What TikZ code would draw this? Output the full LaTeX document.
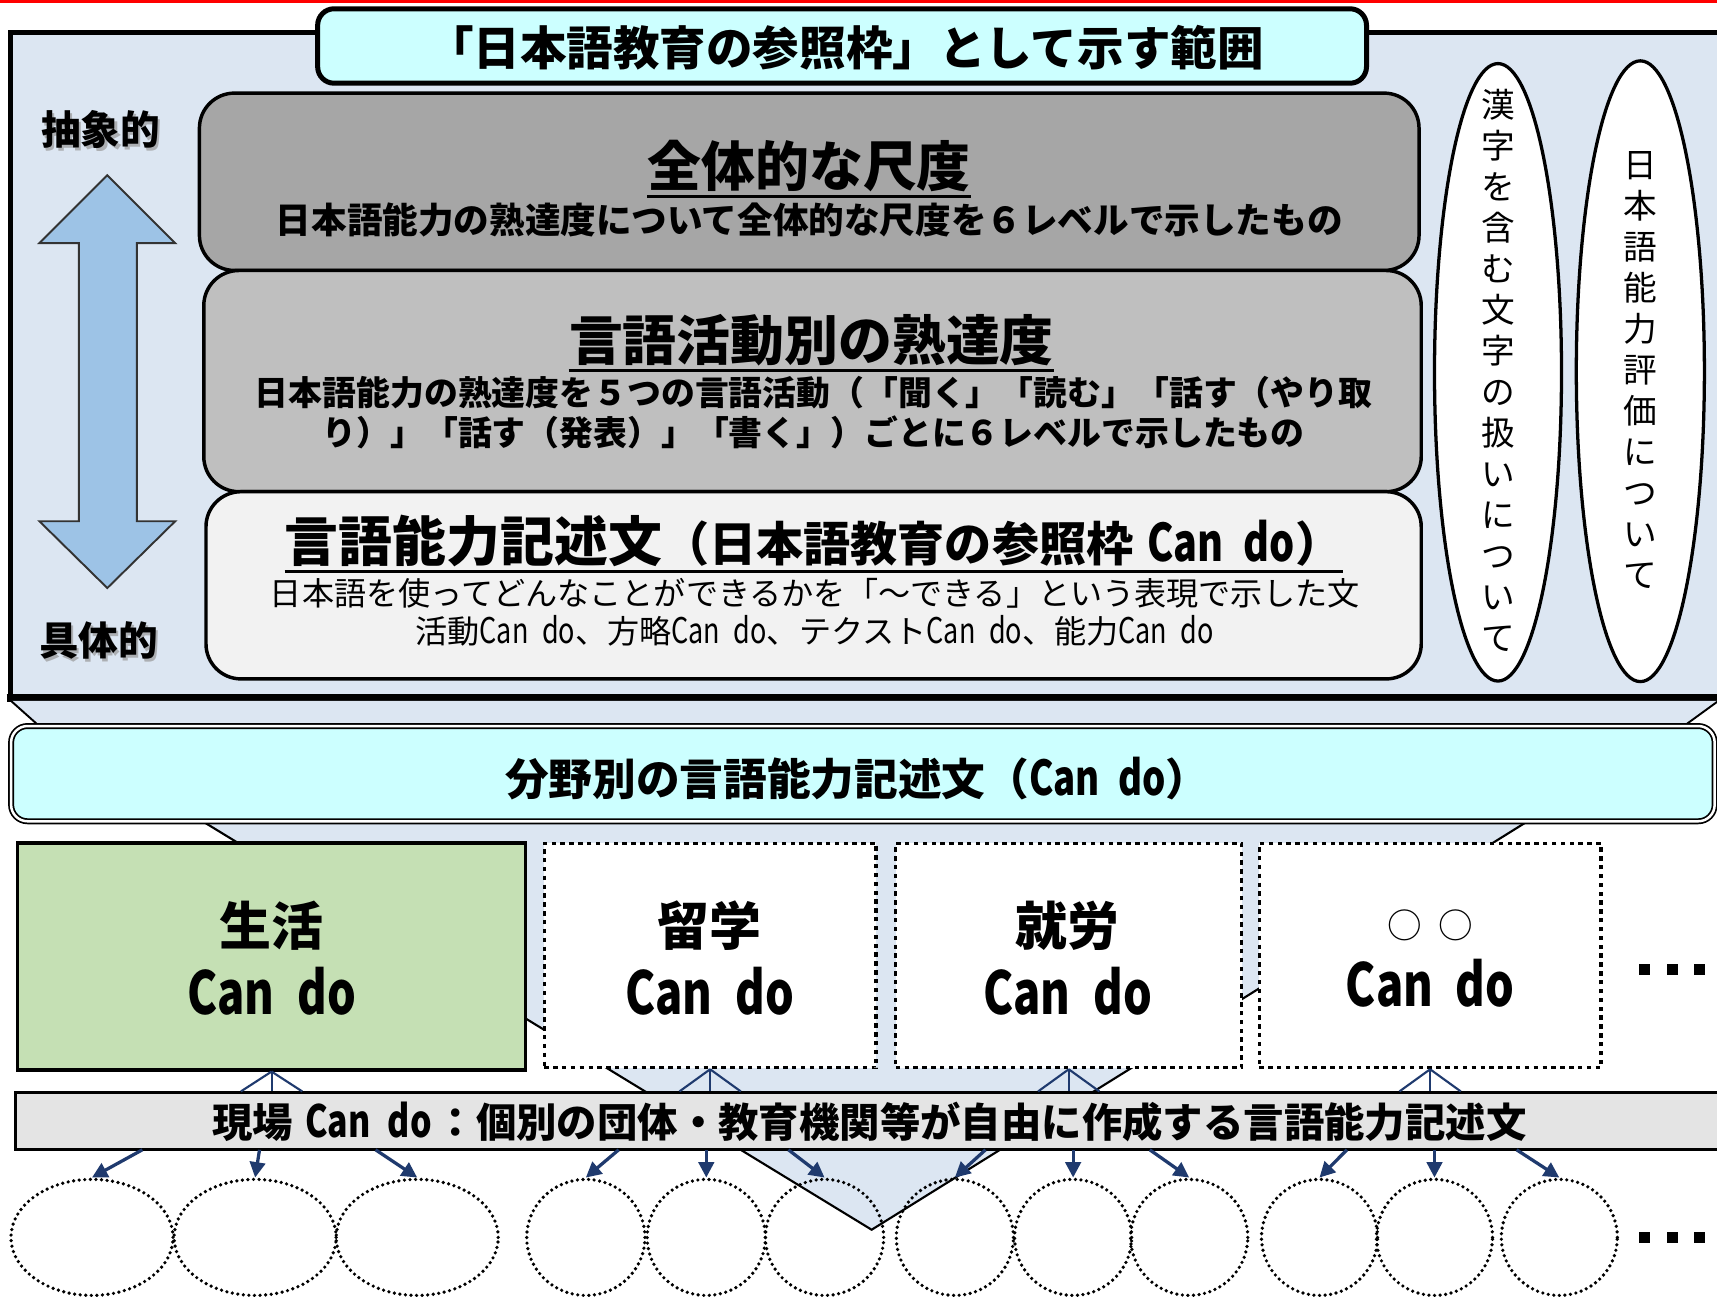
\documentclass[tikz,border=0pt]{standalone}
\usepackage{fontspec}
\usepackage{graphicx}
\setmainfont{Noto Sans CJK JP}
\newfontfamily\narrowfont{Noto Sans CJK JP}[FakeStretch=0.84]
\usetikzlibrary{shapes.geometric,arrows.meta}
\definecolor{framebg}{HTML}{DCE6F2}
\definecolor{cyanbox}{HTML}{CCFFFF}
\definecolor{grayA}{HTML}{A6A6A6}
\definecolor{grayB}{HTML}{BFBFBF}
\definecolor{grayC}{HTML}{F2F2F2}
\definecolor{greenbox}{HTML}{C5E0B4}
\definecolor{arrowblue}{HTML}{9DC3E6}
\definecolor{navy}{HTML}{1F3A6E}
\definecolor{genba}{HTML}{E4E4E4}
\newcommand{\cdo}{\scalebox{1}[1.1]{{\narrowfont Can\hspace{0.42em}do}}}
\begin{document}
\begin{tikzpicture}[x=0.02cm,y=-0.02cm,
  txt/.style={inner sep=0pt, align=center},
  layer/.style={draw, line width=1.8pt, rounded corners=0.64cm, inner sep=0pt},
  dotbox/.style={draw, line width=1.7pt, dash pattern=on 2.3pt off 2.3pt, fill=white, inner sep=0pt},
  dotell/.style={ellipse, draw, line width=1.9pt, dash pattern=on 0pt off 2.9pt, line cap=round, inner sep=0pt, minimum height=2.12cm},
  fan/.style={navy, line width=1.1pt},
  down/.style={navy, line width=1.7pt, -{Triangle[length=8pt,width=8pt]}},
  sq/.style={fill=black, minimum size=0.2cm, inner sep=0pt}]
\path[use as bounding box] (0,0) rectangle (1568,1184);
\clip (0,0) rectangle (1568,1184);
\fill[white] (0,0) rectangle (1568,1184);
\fill[red] (0,0) rectangle (1568,2.5);

% big frame
\draw[line width=2.6pt, fill=framebg] (10,30) rectangle (1650,637);
\draw[line width=4.2pt] (6,637) -- (1650,637);

% title
\node[draw, line width=2.6pt, rounded corners=0.3cm, fill=cyanbox, minimum width=19.16cm, minimum height=1.36cm, inner sep=0pt] (title) at (769,42) {};
\node[txt, font=\bfseries\fontsize{24.2}{29}\selectfont] (titlet) at (772,44) {「日本語教育の参照枠」として示す範囲};

% layers
\node[layer, fill=grayA, minimum width=22.28cm, minimum height=3.24cm] (l1) at (739,166) {};
\node[layer, fill=grayB, minimum width=22.24cm, minimum height=4.04cm] (l2) at (742,348) {};
\node[layer, fill=grayC, minimum width=22.2cm, minimum height=3.42cm] (l3) at (743,534.5) {};

\node[txt, font=\bfseries\fontsize{28}{34}\selectfont] (l1t) at (739,152) {全体的な尺度};
\draw[line width=1.5pt] ([yshift=-2pt]l1t.south west) -- ([yshift=-2pt]l1t.south east);
\node[txt, font=\bfseries\fontsize{18.5}{22}\selectfont] (l1s) at (739,201) {日本語能力の熟達度について全体的な尺度を６レベルで示したもの};

\node[txt, font=\bfseries\fontsize{28}{34}\selectfont] (l2t) at (741,311) {言語活動別の熟達度};
\draw[line width=1.5pt] ([yshift=-2pt]l2t.south west) -- ([yshift=-2pt]l2t.south east);
\node[txt, font=\bfseries\fontsize{17.6}{21}\selectfont] (l2s) at (743,377) {日本語能力の熟達度を５つの言語活動（「聞く」「読む」「話す（やり取\\り）」「話す（発表）」「書く」）ごとに６レベルで示したもの};

\node[txt, font=\bfseries] (l3t) at (743,494) {{\fontsize{28}{34}\selectfont 言語能力記述文}{\fontsize{24.5}{30}\selectfont （日本語教育の参照枠\hspace{0.3em}\cdo）}};
\draw[line width=1.5pt] ([yshift=-2pt]l3t.south west) -- ([yshift=-2pt]l3t.south east);
\node[txt, font=\fontsize{16.7}{19.8}\selectfont] (l3s) at (744,559) {日本語を使ってどんなことができるかを「～できる」という表現で示した文\\活動\cdo、方略\cdo、テクスト\cdo、能力\cdo};

% right ellipses
\node[ellipse, draw, line width=1.7pt, fill=white, minimum width=2.32cm, minimum height=11.28cm, inner sep=0pt] (el1) at (1368,340) {};
\node[ellipse, draw, line width=1.7pt, fill=white, minimum width=2.34cm, minimum height=11.34cm, inner sep=0pt] (el2) at (1498,339) {};
\node[txt, font=\fontsize{17.5}{21.3}\selectfont] (v1) at (1368,338) {漢\\字\\を\\含\\む\\文\\字\\の\\扱\\い\\に\\つ\\い\\て};
\node[txt, font=\fontsize{17.5}{21.3}\selectfont] (v2) at (1498,338) {日\\本\\語\\能\\力\\評\\価\\に\\つ\\い\\て};

% double arrow
\draw[line width=1pt, draw=black!80, fill=arrowblue] (98,160) -- (160,222) -- (125,222) -- (125,476) -- (160,476) -- (98,537) -- (36,476) -- (72,476) -- (72,222) -- (36,222) -- cycle;
\node[txt, text=black!40, opacity=0.7, font=\bfseries\fontsize{20.6}{25}\selectfont] (absh) at (94,121) {抽象的};
\node[txt, font=\bfseries\fontsize{20.6}{25}\selectfont] (ab) at (92,118) {抽象的};
\node[txt, text=black!40, opacity=0.7, font=\bfseries\fontsize{20.6}{25}\selectfont] (gush) at (92,588) {具体的};
\node[txt, font=\bfseries\fontsize{20.6}{25}\selectfont] (gu) at (90,585) {具体的};

% funnels
\fill[framebg] (10,640) -- (1568,640) -- (1535,665) -- (38,665) -- cycle;
\draw[line width=1pt] (10,640) -- (38,665);
\draw[line width=1pt] (1568,641) -- (1535,665);
\fill[framebg] (185,750) -- (1395,750) -- (796,1123) -- cycle;
\draw[line width=1.1pt] (185,750) -- (796,1123) -- (1395,750);

% bar
\node[draw, double, line width=0.9pt, double distance=1.3pt, rounded corners=0.3cm, fill=cyanbox, minimum width=31.12cm, minimum height=1.74cm, inner sep=0pt] (bar) at (788,706.5) {};
\node[txt, font=\bfseries\fontsize{22.7}{27}\selectfont] (bart) at (783,711) {分野別の言語能力記述文（\cdo）};

% field boxes
\node[draw, line width=1.8pt, fill=greenbox, minimum width=9.28cm, minimum height=4.14cm, inner sep=0pt] (sk) at (248,873.5) {};
\node[dotbox, minimum width=6.06cm, minimum height=4.1cm] (ry) at (648.5,872.5) {};
\node[dotbox, minimum width=6.32cm, minimum height=4.1cm] (sh) at (976,872.5) {};
\node[dotbox, minimum width=6.24cm, minimum height=4.1cm] (oo) at (1306,872.5) {};

\node[txt, font=\bfseries\fontsize{27}{32}\selectfont] (skt) at (248,845) {生活};
\node[txt, font=\bfseries\fontsize{28}{34}\selectfont] (skc) at (248,905) {\cdo};
\node[txt, font=\bfseries\fontsize{27}{32}\selectfont] (ryt) at (648,845) {留学};
\node[txt, font=\bfseries\fontsize{28}{34}\selectfont] (ryc) at (648,905) {\cdo};
\node[txt, font=\bfseries\fontsize{27}{32}\selectfont] (sht) at (975,845) {就労};
\node[txt, font=\bfseries\fontsize{28}{34}\selectfont] (shc) at (975,905) {\cdo};
\node[txt, font=\fontsize{18}{22}\selectfont] (oot) at (1306,845) {○\hspace{0.3cm}○};
\node[txt, font=\bfseries\fontsize{28}{34}\selectfont] (ooc) at (1306,898) {\cdo};

\node[sq] (da1) at (1502,885) {};
\node[sq] (da2) at (1527,885) {};
\node[sq] (da3) at (1552,885) {};

% genba bar
\node[draw, line width=1.5pt, fill=genba, minimum width=32.2cm, minimum height=1.04cm, inner sep=0pt] (gb) at (819,1024) {};
\node[txt, font=\bfseries\fontsize{21}{25}\selectfont] (gbt) at (794,1025) {現場\hspace{0.3em}\cdo\hspace{0.1em}：個別の団体・教育機関等が自由に作成する言語能力記述文};

% fans
\foreach \b in {sk,ry,sh,oo} {
  \path (\b.south |- gb.north) coordinate (\b f);
  \draw[fan] (\b.south) -- ([xshift=-0.56cm]\b f);
  \draw[fan] (\b.south) -- (\b f);
  \draw[fan] (\b.south) -- ([xshift=0.56cm]\b f);
}

% bottom ellipses
\foreach \n/\cx/\w in {e1/84/2.96cm, e2/233/2.96cm, e3/381/2.96cm, e4/535/2.16cm, e5/645/2.16cm, e6/753/2.16cm, e7/872/2.14cm, e8/980/2.14cm, e9/1086/2.14cm, e10/1205/2.12cm, e11/1310/2.12cm, e12/1424/2.12cm} {
  \node[dotell, minimum width=\w] (\n) at (\cx,1130) {};
}
\foreach \sx/\e in {130/e1, 237/e2, 343/e3, 565/e4, 645/e5, 720/e6, 900/e7, 980/e8, 1050/e9, 1230/e10, 1310/e11, 1385/e12} {
  \coordinate (s\e) at (\sx,1050);
  \draw[down] (s\e) -- (\e.north);
}
\node[sq] (db1) at (1502,1130) {};
\node[sq] (db2) at (1527,1130) {};
\node[sq] (db3) at (1552,1130) {};
\end{tikzpicture}
\end{document}
